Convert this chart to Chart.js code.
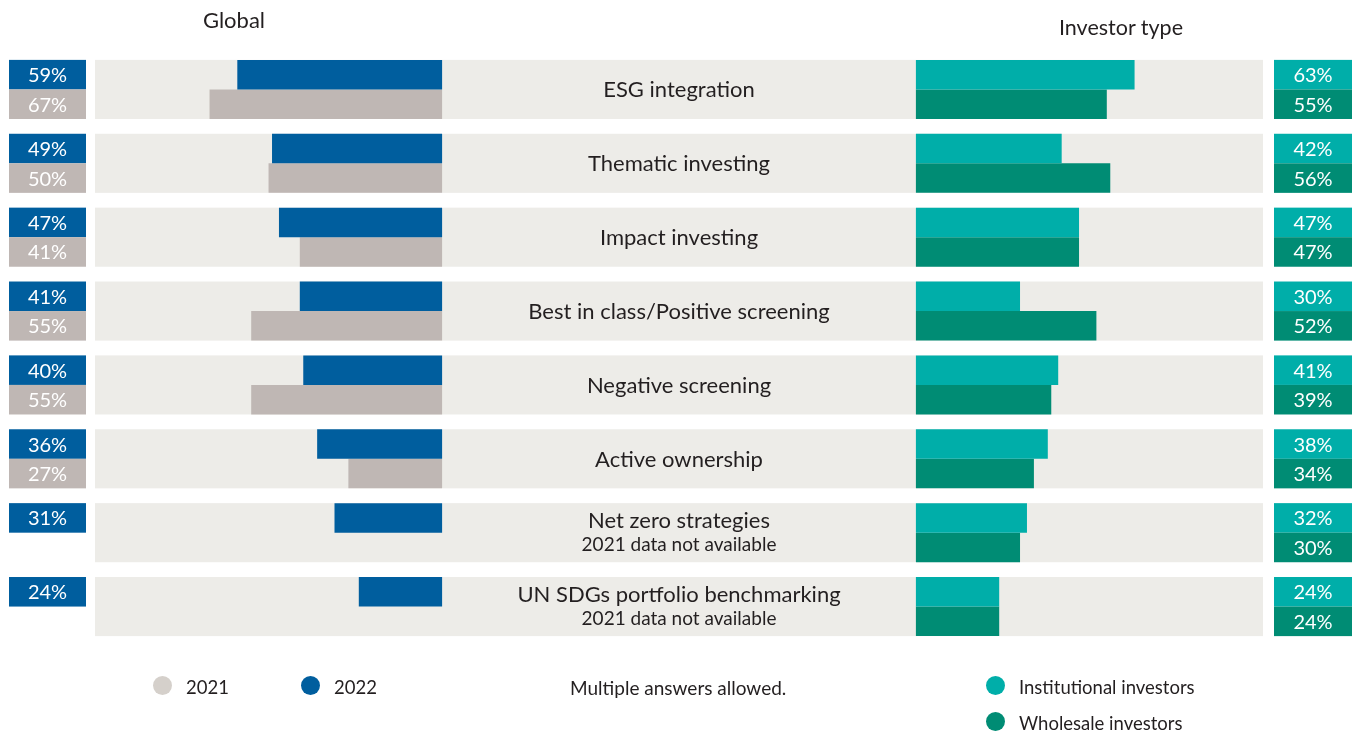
<!DOCTYPE html>
<html>
<head>
<meta charset="utf-8">
<title>ESG approaches used</title>
<script src="https://cdn.jsdelivr.net/npm/chart.js@4.4.1/dist/chart.umd.min.js"></script>
<style>
    body { margin: 0; background: #fff; font-family: Lato, sans-serif; color: #231f20; }
    #wrap { position: relative; width: 1361px; height: 732px; }
    #wrap canvas { position: absolute; left: 0; top: 0; }
    .head { position: absolute; font-size: 22px; line-height: 22px; white-space: nowrap; transform: translateX(-50%); }
    .key { position: absolute; font-size: 18.5px; line-height: 19px; white-space: nowrap; }
    .dot { position: absolute; width: 19px; height: 19px; border-radius: 50%; }
</style>
</head>
<body>
<div id="wrap">
    <canvas id="approachChart"></canvas>
    <div class="head" style="left:234px; top:9px;">Global</div>
    <div class="head" style="left:1121px; top:16px; font-size:21.5px;">Investor type</div>

    <div class="dot" style="left:153px; top:676px; background:#d5d0cb;"></div>
    <div class="key" style="left:186px; top:678px;">2021</div>
    <div class="dot" style="left:301px; top:676px; background:#005e9e;"></div>
    <div class="key" style="left:334px; top:678px;">2022</div>
    <div class="key" style="left:570px; top:678px; font-size:19px;">Multiple answers allowed.</div>
    <div class="dot" style="left:986px; top:676px; background:#00aea9;"></div>
    <div class="key" style="left:1019px; top:678px;">Institutional investors</div>
    <div class="dot" style="left:986px; top:712px; background:#008c74;"></div>
    <div class="key" style="left:1019px; top:714px;">Wholesale investors</div>
</div>

<script>
// approaches and their share of respondents (%)
const categories = [
    'ESG integration',
    'Thematic investing',
    'Impact investing',
    'Best in class/Positive screening',
    'Negative screening',
    'Active ownership',
    'Net zero strategies',
    'UN SDGs portfolio benchmarking'
];
const subNotes = ['', '', '', '', '', '', '2021 data not available', '2021 data not available'];

const global2022 = [59, 49, 47, 41, 40, 36, 31, 24];
const global2021 = [67, 50, 41, 55, 55, 27, null, null];
const institutional = [63, 42, 47, 30, 41, 38, 32, 24];
const wholesale = [55, 56, 47, 52, 39, 34, 30, 24];

const COLORS = {
    y2022: '#005e9e',
    y2021: '#bfb7b4',
    inst: '#00aea9',
    whole: '#008c74',
    band: '#edece8',
    text: '#231f20'
};

// both value axes share one chart area; the min leaves room for the middle label column
const AXIS_MIN = -236.5;

const panelsPlugin = {
    id: 'panels',
    beforeDatasetsDraw(chart) {
        const { ctx, scales: { xLeft, xRight } } = chart;
        const topBars = chart.getDatasetMeta(0).data;
        const x0 = xLeft.getPixelForValue(100);
        const x1 = xRight.getPixelForValue(100);
        ctx.save();
        ctx.fillStyle = COLORS.band;
        topBars.forEach(bar => {
            const top = bar.y - bar.height / 2;
            ctx.fillRect(x0, top, x1 - x0, bar.height * 2);
        });
        ctx.restore();
    },
    afterDatasetsDraw(chart) {
        const { ctx, scales: { xLeft, xRight } } = chart;
        ctx.save();

        // percentage tags at both ends
        chart.data.datasets.forEach((ds, d) => {
            const onLeft = ds.xAxisID === 'xLeft';
            const boxX = onLeft ? 9 : 1274;
            const boxW = onLeft ? 77 : 78;
            chart.getDatasetMeta(d).data.forEach((bar, i) => {
                const v = ds.data[i];
                if (v === null) return;
                const top = bar.y - bar.height / 2;
                ctx.fillStyle = ds.backgroundColor;
                ctx.fillRect(boxX, top, boxW, bar.height);
                ctx.fillStyle = '#ffffff';
                ctx.font = '20px Lato';
                ctx.textAlign = 'center';
                ctx.textBaseline = 'alphabetic';
                ctx.fillText(v + '%', boxX + boxW / 2, bar.y + 7.5);
            });
        });

        // category names in the middle column
        const midX = (xLeft.getPixelForValue(0) + xRight.getPixelForValue(0)) / 2;
        const topBars = chart.getDatasetMeta(0).data;
        ctx.fillStyle = COLORS.text;
        ctx.textAlign = 'center';
        categories.forEach((name, i) => {
            const centre = topBars[i].y + topBars[i].height / 2;
            if (subNotes[i]) {
                ctx.font = '22px Lato';
                ctx.fillText(name, midX, centre - 5);
                ctx.font = '19px Lato';
                ctx.fillText(subNotes[i], midX, centre + 18);
            } else {
                ctx.font = '22px Lato';
                ctx.fillText(name, midX, centre + 8);
            }
        });
        ctx.restore();
    }
};

const ctx = document.getElementById('approachChart').getContext('2d');
const approachChart = new Chart(ctx, {
    type: 'bar',
    data: {
        labels: categories,
        datasets: [
            { label: '2022', data: global2022, xAxisID: 'xLeft', stack: 'upper', backgroundColor: COLORS.y2022 },
            { label: '2021', data: global2021, xAxisID: 'xLeft', stack: 'lower', backgroundColor: COLORS.y2021 },
            { label: 'Institutional investors', data: institutional, xAxisID: 'xRight', stack: 'upper', backgroundColor: COLORS.inst },
            { label: 'Wholesale investors', data: wholesale, xAxisID: 'xRight', stack: 'lower', backgroundColor: COLORS.whole }
        ]
    },
    options: {
        indexAxis: 'y',
        responsive: true,
        maintainAspectRatio: false,
        animation: false,
        categoryPercentage: 0.8,
        barPercentage: 1.0,
        borderWidth: 0,
        layout: {
            padding: { left: 95, right: 98, top: 52.5, bottom: 88.5 }
        },
        scales: {
            y: { display: false, offset: true },
            xLeft: { axis: 'x', type: 'linear', display: false, reverse: true, min: AXIS_MIN, max: 100 },
            xRight: { axis: 'x', type: 'linear', display: false, min: AXIS_MIN, max: 100 }
        },
        plugins: {
            legend: { display: false },
            tooltip: { enabled: false }
        }
    },
    plugins: [panelsPlugin]
});
</script>
</body>
</html>
